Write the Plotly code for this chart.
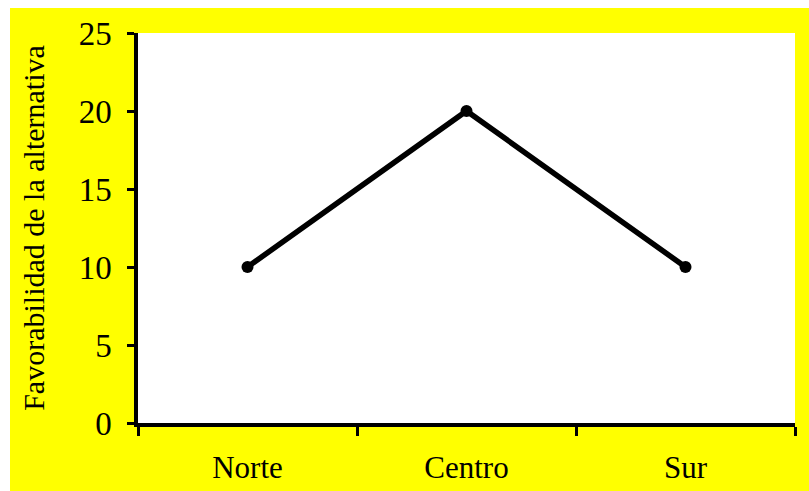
import plotly.graph_objects as go

# Favourability of the alternative by zone
zonas = ["Norte", "Centro", "Sur"]
favorabilidad = [10, 20, 10]
y_ticks = [0, 5, 10, 15, 20, 25]

W, H = 809, 491
M_LEFT, M_RIGHT, M_TOP, M_BOTTOM = 138, 14, 33, 68
PW = W - M_LEFT - M_RIGHT
PH = H - M_TOP - M_BOTTOM

FONT = "Liberation Serif"

fig = go.Figure(
    go.Scatter(
        x=zonas,
        y=favorabilidad,
        mode="lines+markers",
        line=dict(color="black", width=5.5),
        marker=dict(color="black", size=12),
        showlegend=False,
    )
)

# Yellow frame, inset from the top and left edges of the page
fig.add_shape(
    type="rect", xref="paper", yref="paper", layer="below",
    x0=(10 - M_LEFT) / PW, x1=(W + 5 - M_LEFT) / PW,
    y0=-(M_BOTTOM + 5) / PH, y1=1 + (M_TOP - 8) / PH,
    fillcolor="#FFFF00", line=dict(width=0),
)
# White plot area on top of the frame
fig.add_shape(
    type="rect", xref="paper", yref="paper", layer="below",
    x0=0, x1=1, y0=0, y1=1,
    fillcolor="white", line=dict(width=0),
)

fig.update_layout(
    width=W, height=H,
    margin=dict(l=M_LEFT, r=M_RIGHT, t=M_TOP, b=M_BOTTOM, pad=0),
    paper_bgcolor="white",
    plot_bgcolor="rgba(0,0,0,0)",
    font=dict(family=FONT, color="black", size=30),
)

fig.update_xaxes(
    type="category",
    range=[-0.5, 2.5],
    automargin=False,
    tickson="boundaries",
    ticks="outside", ticklen=9, tickwidth=3, tickcolor="black",
    showline=True, linecolor="black", linewidth=3.5,
    showgrid=False, zeroline=False,
    tickfont=dict(family=FONT, size=31),
    ticklabelstandoff=14,
)

fig.update_yaxes(
    range=[0, 25],
    automargin=False,
    tickvals=y_ticks,
    ticks="outside", ticklen=7, tickwidth=3, tickcolor="black",
    showline=True, linecolor="black", linewidth=3.5,
    showgrid=False, zeroline=False,
    tickfont=dict(family=FONT, size=33),
    ticklabelstandoff=9,
    title=dict(text="Favorabilidad de la alternativa",
               font=dict(family=FONT, size=30), standoff=26),
)

fig.write_html("out.html")
